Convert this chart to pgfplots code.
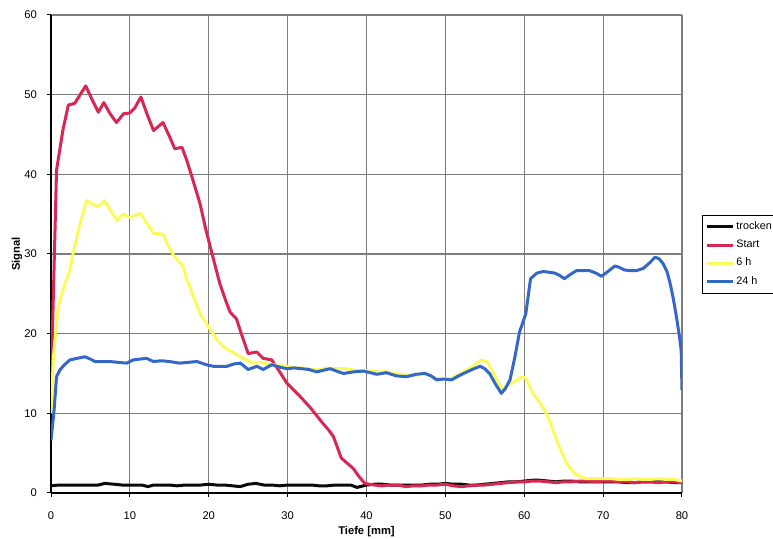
\documentclass[border=0pt]{standalone}
\usepackage{fontspec}
\setmainfont{Liberation Sans}
\usepackage{pgfplots}
\pgfplotsset{compat=1.18}

\definecolor{cTrocken}{RGB}{10,10,10}
\definecolor{cStart}{RGB}{214,40,82}
\definecolor{cSechs}{RGB}{250,250,90}
\definecolor{cVier}{RGB}{52,104,200}
\definecolor{cGrid}{RGB}{125,125,125}

\begin{document}
\begin{tikzpicture}
\useasboundingbox (-25.5pt,-23pt) rectangle (361pt,246.5pt);
\begin{axis}[
  scale only axis,
  width=315.5pt, height=239pt,
  xmin=0, xmax=80, ymin=0, ymax=60,
  xtick distance=10, ytick distance=10,
  grid=major,
  major grid style={cGrid, line width=0.55pt},
  axis x line*=bottom, axis y line*=left,
  axis line style={-, black, line width=0.6pt},
  tick align=outside, major tick length=2pt,
  tick style={black, line width=0.5pt},
  /pgf/number format/assume math mode=true,
  tick label style={font=\fontsize{5.6}{6.7}\selectfont},
  xticklabel style={yshift=-4pt},
  yticklabel style={xshift=-1.5pt},
  xlabel={\textbf{Tiefe [mm]}},
  ylabel={\textbf{Signal}},
  label style={font=\fontsize{5.6}{6.7}\selectfont},
  xlabel style={at={(axis description cs:0.5,-0.0816)}, anchor=center},
  ylabel style={at={(axis description cs:-0.054,0.5)}, anchor=center},
  legend style={at={(axis description cs:1.0317,0.5816)}, anchor=north west,
    draw=black, line width=0.5pt, font=\fontsize{5.4}{6.4}\selectfont,
    inner xsep=1.5pt, inner ysep=2pt, row sep=1.8pt, fill=white,
    nodes={inner xsep=1pt, inner ysep=1pt}},
  legend cell align=left,
  legend image code/.code={\draw[#1] (0pt,0pt) -- (13pt,0pt);},
  every axis plot/.append style={line width=1.5pt, line join=round},
]
% trocken
\addplot[cTrocken] coordinates {
(0,0.9)(1,1.0)(2,1.0)(3,1.0)(4,1.0)(5,1.0)(6,1.0)(6.8,1.2)(8,1.1)(9,1.0)(10,1.0)
(11.5,1.0)(12.3,0.8)(13,1.0)(14,1.0)(15,1.0)(16,0.9)(17,1.0)(18,1.0)(19,1.0)(20,1.1)
(21,1.0)(22,1.0)(23,0.9)(24,0.8)(25,1.1)(26,1.2)(27,1.0)(28,1.0)(29,0.9)(30,1.0)
(31,1.0)(32,1.0)(33,1.0)(34,0.9)(35,0.9)(36,1.0)(37,1.0)(38,1.0)(38.8,0.7)(40,1.0)
(41,1.1)(42,1.1)(43,1.0)(44,1.0)(45,1.0)(46,1.0)(47,1.0)(48,1.1)(49,1.1)(50,1.2)
(51,1.1)(52,1.1)(53,1.0)(54,1.0)(55,1.1)(56,1.2)(57,1.3)(58,1.4)(59,1.4)(60,1.5)
(61,1.6)(62,1.6)(63,1.5)(64,1.4)(65,1.5)(66,1.5)(67,1.4)(68,1.4)(69,1.4)(70,1.4)
(71,1.4)(72,1.4)(73,1.3)(74,1.3)(75,1.4)(76,1.4)(77,1.4)(78,1.4)(79,1.3)(80,1.3)
};
\addlegendentry{trocken}
% Start
\addplot[cStart] coordinates {
(0,13.0)(0.7,40.5)(1.5,45.5)(2.2,48.7)(3.0,48.9)(3.7,50.0)(4.4,51.1)(5.2,49.4)(6.0,47.8)
(6.7,49.0)(7.5,47.6)(8.3,46.5)(9.2,47.6)(10.0,47.7)(10.6,48.3)(11.4,49.7)(12.2,47.5)
(13.0,45.5)(14.2,46.5)(15.0,44.8)(15.7,43.2)(16.6,43.4)(17.2,41.8)(17.8,39.9)(18.9,36.3)
(19.6,33.2)(20.4,30.1)(21.4,26.3)(22.1,24.3)(22.7,22.7)(23.5,21.9)(24.2,19.8)(25.0,17.5)
(26.1,17.7)(26.9,16.9)(28.0,16.7)(29.0,15.2)(29.9,13.8)(31.6,12.1)(32.8,10.8)(33.7,9.7)
(34.5,8.7)(35.2,7.9)(35.8,7.1)(36.8,4.4)(38.3,3.1)(39.1,2.0)(39.8,1.2)(41,1.0)(42,0.9)
(43,1.0)(44,1.0)(45,0.8)(46,0.9)(47,0.9)(48,1.0)(49,1.0)(50,1.1)(51,0.9)(52,0.8)
(53,0.9)(54,1.0)(55,1.0)(56,1.1)(57,1.2)(58,1.3)(59,1.4)(60,1.4)(61,1.5)(62,1.5)
(63,1.4)(64,1.3)(65,1.4)(66,1.4)(67,1.5)(68,1.5)(69,1.4)(70,1.5)(71,1.5)(72,1.4)
(73,1.4)(74,1.3)(75,1.4)(76,1.4)(77,1.3)(78,1.4)(79,1.4)(80,1.3)
};
\addlegendentry{Start}
% 6 h
\addplot[cSechs] coordinates {
(0,10.0)(0.3,17.0)(0.9,23.3)(1.6,25.8)(2.4,28.0)(2.8,30.1)(3.6,33.5)(4.5,36.7)(5.2,36.3)
(6.0,35.9)(6.8,36.7)(7.6,35.4)(8.4,34.2)(9.1,35.0)(10.0,34.6)(11.3,35.1)(12.2,33.8)
(13.0,32.6)(14.2,32.5)(14.8,31.2)(15.5,29.9)(16.8,28.4)(17.2,26.8)(17.6,25.9)(18.9,22.5)
(20.2,20.5)(21.0,19.3)(21.8,18.4)(23.0,17.7)(24.0,17.1)(24.8,16.7)(25.6,16.3)(26.5,16.4)
(27.3,16.2)(28.2,16.1)(29,16.0)(30,15.9)(31,15.7)(32,15.7)(33,15.5)(34,15.5)(35,15.7)
(36,15.6)(37.5,15.6)(38.5,15.4)(39.5,15.4)(40.5,15.3)(41.5,15.2)(42.5,15.2)(43.5,15.0)
(44.5,14.9)(45.5,14.8)(46.5,14.8)(47.4,15.1)(48.2,14.7)(48.9,14.4)(50,14.4)(50.8,14.4)
(51.5,14.8)(52.3,15.2)(53.5,15.9)(54.5,16.7)(55.3,16.5)(56.2,14.8)(57.2,13.0)(58,13.6)
(58.8,14.0)(59.7,14.6)(60.2,14.4)(61.1,12.5)(62.0,11.3)(62.8,10.0)(63.5,8.3)(64.1,6.6)
(64.8,5.0)(65.4,3.7)(66.0,2.9)(66.6,2.3)(67.3,2.0)(67.9,1.8)(69,1.8)(70,1.8)(71,1.8)
(72,1.7)(73,1.7)(74,1.8)(75,1.7)(76,1.7)(77,1.8)(78,1.7)(79,1.7)(80,1.5)
};
\addlegendentry{6 h}
% 24 h
\addplot[cVier] coordinates {
(0,6.6)(0.4,10.5)(0.7,14.6)(1.1,15.4)(1.7,16.1)(2.4,16.7)(3.3,16.9)(4.3,17.1)(5.0,16.8)
(5.6,16.5)(6.5,16.5)(7.5,16.5)(8.5,16.4)(9.6,16.3)(10.4,16.7)(11.2,16.8)(12.1,16.9)
(13.0,16.5)(14.0,16.6)(15.0,16.5)(16.3,16.3)(17.4,16.4)(18.5,16.5)(19.7,16.1)(20.6,15.9)
(21.5,15.9)(22.3,15.9)(23.2,16.2)(24.0,16.3)(25.0,15.5)(26.1,15.9)(26.9,15.5)(28.0,16.1)
(29.0,15.8)(29.9,15.6)(30.8,15.7)(31.8,15.6)(32.7,15.5)(33.7,15.2)(34.5,15.4)(35.4,15.6)
(36.2,15.3)(37.1,15.0)(38.3,15.2)(39.6,15.3)(40.5,15.1)(41.3,14.9)(42.5,15.1)(43.8,14.7)
(45.1,14.6)(46.3,14.9)(47.4,15.0)(48.2,14.7)(48.9,14.2)(49.8,14.3)(50.8,14.2)(51.5,14.6)
(52.3,15.0)(53.4,15.5)(54.4,15.9)(55.0,15.6)(55.6,15.0)(56.4,13.6)(57.1,12.5)(57.6,13.1)
(58.2,14.2)(58.8,17.0)(59.4,20.2)(60.2,22.5)(60.8,26.9)(61.6,27.6)(62.4,27.8)(63.2,27.7)
(63.9,27.6)(64.5,27.3)(65.1,26.9)(65.8,27.4)(66.6,27.9)(67.5,27.9)(68.3,27.9)(69.1,27.6)
(69.8,27.2)(70.6,27.8)(71.5,28.5)(72.1,28.3)(72.7,28.0)(73.5,27.9)(74.2,27.9)(75.1,28.2)
(75.9,28.9)(76.6,29.6)(77.1,29.4)(77.6,28.8)(78.1,27.8)(78.5,26.3)(78.9,24.4)(79.3,22.1)
(79.7,19.5)(79.9,17.9)(80,12.9)
};
\addlegendentry{24 h}
\end{axis}
\end{tikzpicture}
\end{document}
